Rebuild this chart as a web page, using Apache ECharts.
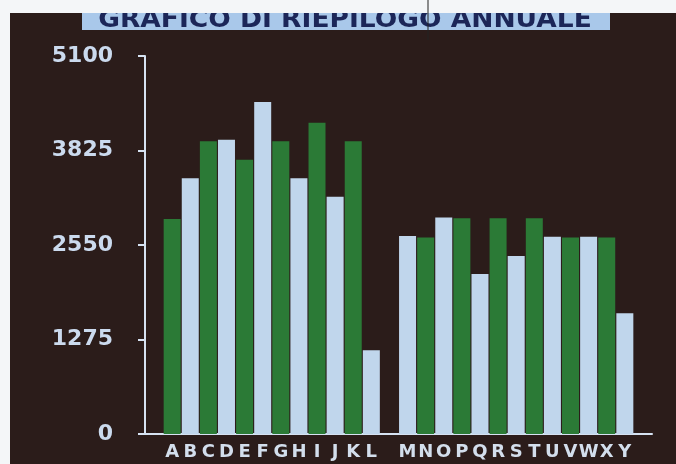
<!DOCTYPE html>
<html>
<head>
<meta charset="utf-8">
<script src="https://cdn.jsdelivr.net/npm/echarts@6/dist/echarts.min.js"></script>
<style>
  html, body { margin: 0; padding: 0; background: #f4f6f8; }
  #chart { width: 676px; height: 464px; }
</style>
</head>
<body>
<div id="chart"></div>
<script>
// categories: blank slots at the ends and between the two groups
const categories = ["", "A", "B", "C", "D", "E", "F", "G", "H", "I", "J", "K", "L", "",
  "M", "N", "O", "P", "Q", "R", "S", "T", "U", "V", "W", "X", "Y", ""];
const greenValues = [null, 2900, null, 3950, null, 3700, null, 3950, null, 4200, null, 3950, null, null,
  null, 2650, null, 2910, null, 2910, null, 2910, null, 2650, null, 2650, null, null];
const lightValues = [null, null, 3450, null, 3970, null, 4480, null, 3450, null, 3200, null, 1130, null,
  2670, null, 2920, null, 2160, null, 2400, null, 2660, null, 2660, null, 1630, null];
const yTicks = [0, 1275, 2550, 3825, 5100];
const title = "GRAFICO DI RIEPILOGO ANNUALE";

const chart = echarts.init(document.getElementById("chart"));
chart.setOption({
  animation: false,
  backgroundColor: "#f4f6f8",
  graphic: [
    {
      type: "rect",
      z: -10,
      shape: { x: 10, y: 13, width: 666, height: 451 },
      style: { fill: "#2b1c1a" },
    },
    {
      type: "rect",
      z: 1,
      shape: { x: 82, y: 13, width: 528, height: 17 },
      style: { fill: "#a9c8ea" },
    },
    {
      type: "text",
      z: 2,
      x: 345,
      y: 33,
      scaleX: 1.06,
      style: {
        text: title,
        fill: "#1c2658",
        font: "bold 25px 'DejaVu Sans'",
        textAlign: "center",
        textVerticalAlign: "bottom",
      },
    },
    {
      type: "rect",
      z: 3,
      shape: { x: 0, y: 0, width: 676, height: 13 },
      style: { fill: "#f4f6f8" },
    },
    {
      type: "line",
      z: 4,
      shape: { x1: 428, y1: 0, x2: 428, y2: 40 },
      style: { stroke: "#222", lineWidth: 1 },
    },
  ],
  grid: {
    left: 145,
    right: 24,
    top: 56,
    bottom: 30,
  },
  xAxis: {
    type: "category",
    data: categories,
    axisLine: { lineStyle: { color: "#d6e2f2", width: 2 } },
    axisTick: { show: false },
    axisLabel: {
      interval: 0,
      margin: 9,
      color: "#d3deec",
      fontFamily: "DejaVu Sans",
      fontWeight: "bold",
      fontSize: 18,
    },
  },
  yAxis: {
    type: "value",
    min: yTicks[0],
    max: yTicks[yTicks.length - 1],
    interval: yTicks[1] - yTicks[0],
    splitLine: { show: false },
    axisLine: { show: true, lineStyle: { color: "#d6e2f2", width: 2 } },
    axisTick: { show: true, length: 7, lineStyle: { color: "#d6e2f2", width: 2 } },
    axisLabel: {
      margin: 32,
      color: "#cbdaee",
      fontFamily: "DejaVu Sans",
      fontWeight: "bold",
      fontSize: 22,
      formatter: (v) => String(v),
    },
  },
  series: [
    {
      type: "bar",
      data: greenValues,
      barWidth: 17,
      barGap: "-100%",
      itemStyle: { color: "#2b7a36" },
    },
    {
      type: "bar",
      data: lightValues,
      barWidth: 17,
      barGap: "-100%",
      itemStyle: { color: "#c0d6ec" },
    },
  ],
});
</script>
</body>
</html>
